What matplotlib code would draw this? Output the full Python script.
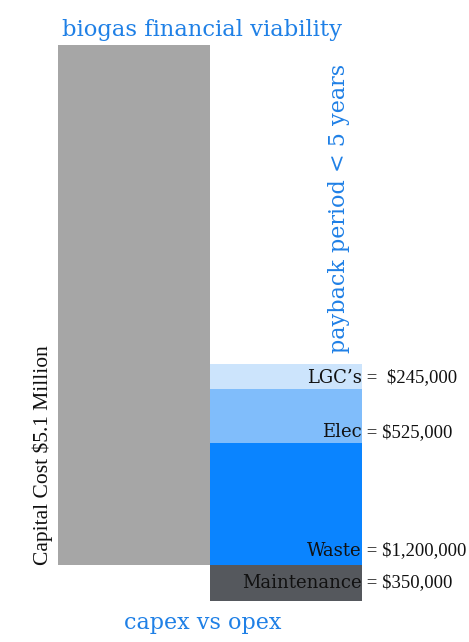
import matplotlib.pyplot as plt

# values in $ millions
capex_label = 'Capital Cost $5.1 Million'
capex = 5.1
revenue_names = ['Waste', 'Elec', "LGC\u2019s"]
revenue_values = [1.2, 0.525, 0.245]
revenue_text = ['= $1,200,000', '= $525,000', '=  $245,000']
maint_name = 'Maintenance'
maint_value = 0.35
maint_text = '= $350,000'

blue = '#1f80e6'
serif = 'DejaVu Serif'

fig = plt.figure(figsize=(4.69, 6.42), dpi=100)
ax = fig.add_axes([0, 0, 1, 1])
ax.set_xlim(-0.8816, 2.204)
ax.set_ylim(-0.755, 5.541)
ax.axis('off')

# capex bar
ax.bar(0, capex, width=1.0, color='#a6a6a6')

# opex stack: maintenance below zero, revenues above
ax.bar(1, -maint_value, width=1.0, color='#55585d')
colors = ['#0a84ff', '#80bdfb', '#cce4fc']
bottom = 0
for v, c in zip(revenue_values, colors):
    ax.bar(1, v, bottom=bottom, width=1.0, color=c)
    bottom += v

fs_name = 13
fs_val = 13.5
num_font = 'Liberation Serif'
label_y = [0.137, 1.30, 1.834]
for name, txt, y in zip(revenue_names, revenue_text, label_y):
    ax.text(1.5, y, name, ha='right', va='center', fontsize=fs_name, family=serif, color='#111111')
    ax.text(1.5, y, ' ' + txt, ha='left', va='center', fontsize=fs_val, family=num_font, color='#111111')
ax.text(1.5, -maint_value / 2, maint_name, ha='right', va='center', fontsize=fs_name, family=serif, color='#111111')
ax.text(1.5, -maint_value / 2, ' ' + maint_text, ha='left', va='center', fontsize=fs_val, family=num_font, color='#111111')

ax.text(-0.6, 0.0, capex_label, rotation=90, ha='center', va='bottom',
        fontsize=15.5, family='Liberation Serif', color='#111111')

ax.text(1.35, 3.50, 'payback period < 5 years', rotation=90, ha='center', va='center',
        fontsize=16, family=serif, color=blue)

ax.text(0.446, 5.245, 'biogas financial viability', ha='center', va='center',
        fontsize=16.3, family=serif, color=blue)
ax.text(0.453, -0.57, 'capex vs opex', ha='center', va='center',
        fontsize=16, family=serif, color=blue)

fig.savefig('out.png', dpi=100)
